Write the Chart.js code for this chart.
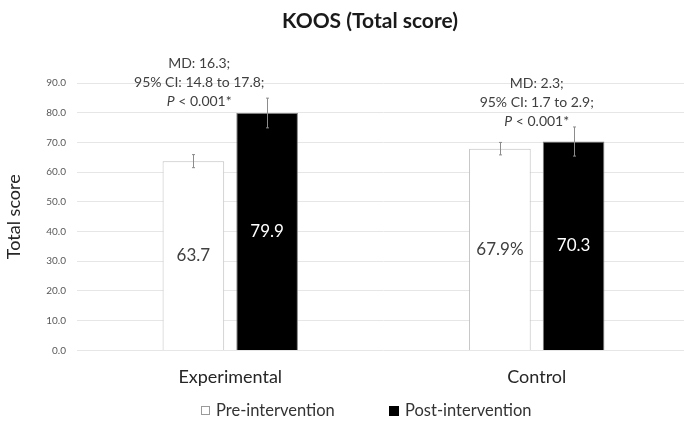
<!DOCTYPE html>
<html>
<head>
<meta charset="utf-8">
<script src="https://cdn.jsdelivr.net/npm/chart.js@4.4.1/dist/chart.umd.min.js"></script>
<style>
html,body{margin:0;padding:0;background:#fff;overflow:hidden;}
#wrap{width:684px;height:434px;position:relative;overflow:hidden;}
</style>
</head>
<body>
<div id="wrap"><canvas id="c" width="692" height="434"></canvas></div>
<script>
const chartTitle = "KOOS (Total score)";
const categories = ["Experimental", "Control"];
const seriesNames = ["Pre-intervention", "Post-intervention"];
const preValues = [63.7, 67.9];
const postValues = [79.9, 70.3];
const preErrors = [2.2, 2.1];
const postErrors = [5.0, 4.9];
const preLabels = ["63.7", "67.9%"];
const postLabels = ["79.9", "70.3"];
const annotations = [
  ["MD: 16.3;", "95% CI: 14.8 to 17.8;", "P < 0.001*"],
  ["MD: 2.3;", "95% CI: 1.7 to 2.9;", "P < 0.001*"]
];
const yTicks = [0, 10, 20, 30, 40, 50, 60, 70, 80, 90];

const FONT = "Lato, 'Open Sans', sans-serif";

const decorPlugin = {
  id: 'decor',
  afterDatasetsDraw(chart) {
    const ctx = chart.ctx;
    const y = chart.scales.y;
    const errs = [preErrors, postErrors];
    chart.data.datasets.forEach((ds, di) => {
      const meta = chart.getDatasetMeta(di);
      meta.data.forEach((bar, i) => {
        const v = ds.data[i];
        const e = errs[di][i];
        const yt = y.getPixelForValue(v + e);
        const yb = y.getPixelForValue(v - e);
        const bx = Math.round(bar.x) + 0.5;
        ctx.save();
        ctx.strokeStyle = '#8c8c8c';
        ctx.lineWidth = 1;
        ctx.beginPath();
        ctx.moveTo(bx, yt); ctx.lineTo(bx, yb);
        ctx.moveTo(bx - 1.5, yt); ctx.lineTo(bx + 1.5, yt);
        ctx.moveTo(bx - 1.5, yb); ctx.lineTo(bx + 1.5, yb);
        ctx.stroke();
        ctx.restore();
      });
    });
  },
  afterDraw(chart) {
    const ctx = chart.ctx;
    const x = chart.scales.x;
    const y = chart.scales.y;
    const labs = [preLabels, postLabels];
    // title
    ctx.save();
    ctx.font = "bold 21px " + FONT;
    ctx.fillStyle = '#1a1a1a';
    ctx.textAlign = 'center';
    ctx.textBaseline = 'middle';
    ctx.fillText(chartTitle, 370, 21);
    ctx.restore();
    // value labels
    chart.data.datasets.forEach((ds, di) => {
      const meta = chart.getDatasetMeta(di);
      meta.data.forEach((bar, i) => {
        const mid = (y.getPixelForValue(ds.data[i]) + y.getPixelForValue(0)) / 2;
        ctx.save();
        ctx.font = "17px " + FONT;
        ctx.fillStyle = di === 0 ? '#404040' : '#ffffff';
        ctx.textAlign = 'center';
        ctx.textBaseline = 'middle';
        ctx.fillText(labs[di][i], bar.x, mid);
        ctx.restore();
      });
    });
    // annotations
    const offsets = [-31, 0];
    const tops = [63, 83];
    annotations.forEach((lines, i) => {
      const cx = x.getPixelForValue(i) + offsets[i];
      lines.forEach((t, li) => {
        const ty = tops[i] + li * 19;
        ctx.save();
        ctx.fillStyle = '#404040';
        ctx.textBaseline = 'middle';
        if (t.startsWith('P ')) {
          const rest = t.slice(1);
          ctx.font = "italic 14px " + FONT;
          const w1 = ctx.measureText('P').width;
          ctx.font = "14px " + FONT;
          const w2 = ctx.measureText(rest).width;
          const sx = cx - (w1 + w2) / 2;
          ctx.textAlign = 'left';
          ctx.font = "italic 14px " + FONT;
          ctx.fillText('P', sx, ty);
          ctx.font = "14px " + FONT;
          ctx.fillText(rest, sx + w1, ty);
        } else {
          ctx.font = "14px " + FONT;
          ctx.textAlign = 'center';
          ctx.fillText(t, cx, ty);
        }
        ctx.restore();
      });
    });
    // legend
    const ly = 411;
    const items = [
      { box: [201.5, ly - 4.5, 8, 8], fill: '#ffffff', stroke: '#9a9a9a', tx: 216 },
      { box: [389.5, ly - 4.5, 9, 9], fill: '#000000', stroke: '#000000', tx: 405 }
    ];
    items.forEach((it, i) => {
      ctx.save();
      ctx.fillStyle = it.fill;
      ctx.fillRect(...it.box);
      ctx.strokeStyle = it.stroke;
      ctx.lineWidth = 1;
      ctx.strokeRect(...it.box);
      ctx.font = "16.5px " + FONT;
      ctx.fillStyle = '#333333';
      ctx.textAlign = 'left';
      ctx.textBaseline = 'middle';
      ctx.fillText(chart.data.datasets[i].label, it.tx, ly);
      ctx.restore();
    });
  }
};

new Chart(document.getElementById('c'), {
  type: 'bar',
  data: {
    labels: categories,
    datasets: [
      { label: seriesNames[0], data: preValues, backgroundColor: '#ffffff', borderColor: '#bfbfbf', borderWidth: 1 },
      { label: seriesNames[1], data: postValues, backgroundColor: '#000000', borderColor: '#7f7f7f', borderWidth: 1 }
    ]
  },
  options: {
    responsive: false,
    animation: false,
    devicePixelRatio: 1,
    layout: { padding: { top: 83, left: 0, right: 2, bottom: 38 } },
    datasets: { bar: { categoryPercentage: 0.481, barPercentage: 0.836 } },
    plugins: {
      title: { display: false },
      legend: { display: false },
      tooltip: { enabled: false }
    },
    scales: {
      x: {
        grid: { display: false },
        border: { display: false },
        ticks: { color: '#262626', font: { family: FONT, size: 18 }, padding: 8 }
      },
      y: {
        min: 0, max: 90,
        afterBuildTicks(scale) { scale.ticks = yTicks.map(v => ({ value: v })); },
        afterFit(scale) { scale.width = 77; },
        grid: { color: '#e6e6e6', drawTicks: false },
        border: { display: false },
        ticks: {
          color: '#595959',
          font: { family: FONT, size: 10 },
          padding: 11,
          callback: v => v.toFixed(1)
        },
        title: {
          display: true,
          text: 'Total score',
          color: '#262626',
          font: { family: FONT, size: 18 },
          padding: { top: 3, bottom: 3 }
        }
      }
    }
  },
  plugins: [decorPlugin]
});
</script>
</body>
</html>
